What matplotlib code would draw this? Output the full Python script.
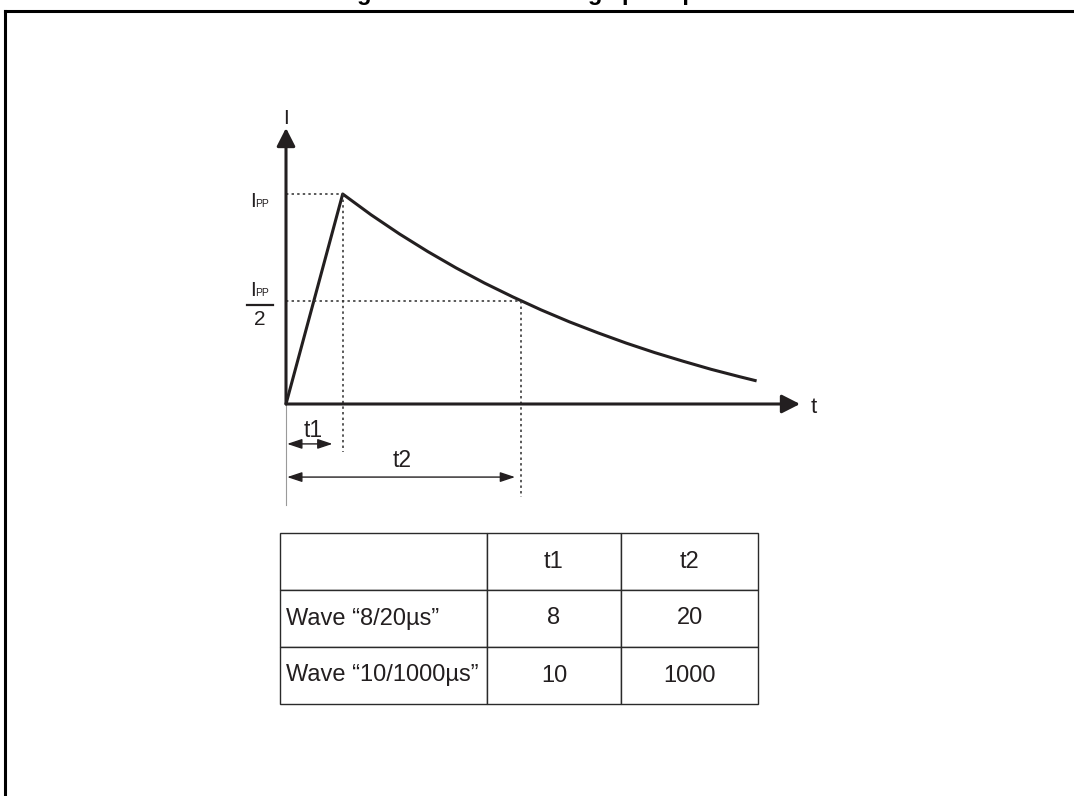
import matplotlib
matplotlib.use('Agg')
import matplotlib.pyplot as plt
from matplotlib.lines import Line2D
from matplotlib.transforms import IdentityTransform

plt.rcParams['font.family'] = ['Liberation Sans', 'DejaVu Sans']

# ---------------- data ----------------
# time in units of the rise time t1, current in units of Ipp
rise_t = [0.0, 1.0]
rise_i = [0.0, 1.0]
decay_t = [1.0, 1.5, 2.0, 2.5, 3.0, 3.5, 4.0, 4.5, 5.0, 5.5, 6.0, 6.5, 7.0, 7.5, 8.0, 8.3]
decay_i = [1.000, 0.901, 0.810, 0.726, 0.648, 0.576, 0.510, 0.448, 0.391, 0.339,
           0.290, 0.245, 0.204, 0.165, 0.130, 0.110]
T1 = 1.0          # time of peak
T2 = 4.14         # time at half value
I_PEAK = 1.0
I_HALF = 0.49

table_cols = ['', 't1', 't2']
wave_names = ['Wave \u201c8/20\u00b5s\u201d', 'Wave \u201c10/1000\u00b5s\u201d']
t1_values = [8, 10]
t2_values = [20, 1000]

TITLE = 'Figure 2. Standard surge peak pulse'

# ---------------- figure ----------------
W, H = 1074, 796
fig = plt.figure(figsize=(W / 100, H / 100), dpi=100)
C = '#231f20'
DOT = '#333333'

# page frame (partial box) and clipped caption
fig.add_artist(Line2D([5 / W, 5 / W], [0, 1 - 10.5 / H], transform=fig.transFigure,
                      lw=2.2, color='black', solid_capstyle='projecting'))
fig.add_artist(Line2D([5 / W, 1.0], [1 - 10.5 / H, 1 - 10.5 / H], transform=fig.transFigure,
                      lw=2.2, color='black', solid_capstyle='projecting'))
fig.text(540 / W, 1 - 0.3 / H, TITLE, ha='center', va='baseline', fontsize=17,
         fontweight='bold', color='black')

# ---------------- waveform axes ----------------
PX_T = 56.7   # pixels per t unit
PX_I = 210.0  # pixels per I unit
x0, y0 = 286, 404
x_tip, y_tip = 800, 128
X_MAX = (x_tip - x0) / PX_T
Y_MAX = (y0 - y_tip) / PX_I
ax = fig.add_axes([x0 / W, 1 - y0 / H, (x_tip - x0) / W, (y0 - y_tip) / H])
ax.set_xlim(0, X_MAX)
ax.set_ylim(0, Y_MAX)
ax.axis('off')

# axes with arrows
arrow_kw = dict(arrowstyle='-|>,head_length=0.55,head_width=0.28', lw=2.2, color=C,
                shrinkA=0, shrinkB=0, mutation_scale=20)
ax.annotate('', xy=(X_MAX, 0), xytext=(0, 0), arrowprops=arrow_kw, annotation_clip=False)
ax.annotate('', xy=(0, Y_MAX), xytext=(0, 0), arrowprops=arrow_kw, annotation_clip=False)

# thin gray reference line under origin
ax.plot([0, 0], [0, -0.481], color='#9a9a9a', lw=0.8, clip_on=False)

# pulse
ax.plot(rise_t + decay_t[1:], rise_i + decay_i[1:], color=C, lw=2.2,
        solid_joinstyle='round', solid_capstyle='butt', clip_on=False)

# dotted construction lines
dot_kw = dict(color=DOT, lw=1.15, ls=(0, (1.5, 2.0)), clip_on=False)
ax.plot([0, T1], [I_PEAK, I_PEAK], **dot_kw)
ax.plot([T1, T1], [I_PEAK, -0.229], **dot_kw)
ax.plot([0, T2], [I_HALF, I_HALF], **dot_kw)
ax.plot([T2, T2], [I_HALF, -0.443], **dot_kw)

# dimension arrows
dim_kw = dict(arrowstyle='<|-|>,head_length=0.45,head_width=0.15', lw=1.0, color=C,
              shrinkA=0, shrinkB=0, mutation_scale=20)
t1_end, t1_lvl = 0.82, -0.19
t2_end, t2_lvl = 4.04, -0.348
ax.annotate('', xy=(t1_end, t1_lvl), xytext=(0.02, t1_lvl), arrowprops=dim_kw,
            annotation_clip=False)
ax.annotate('', xy=(t2_end, t2_lvl), xytext=(0.02, t2_lvl), arrowprops=dim_kw,
            annotation_clip=False)

lab = dict(textcoords='offset pixels', color=C, annotation_clip=False)
ax.annotate('t1', xy=(t1_end / 2, t1_lvl), xytext=(4, 7), ha='center', va='baseline',
            fontsize=16.5, **lab)
ax.annotate('t2', xy=(t2_end / 2, t2_lvl), xytext=(2, 10), ha='center', va='baseline',
            fontsize=16.5, **lab)
ax.annotate('I', xy=(0, Y_MAX), xytext=(0, 10), ha='center', va='center',
            fontsize=15, **lab)
ax.annotate('t', xy=(X_MAX, 0), xytext=(14, -9), ha='center', va='baseline',
            fontsize=16, **lab)

# Ipp label
ax.annotate('I', xy=(0, I_PEAK), xytext=(-33, -13), ha='center', va='baseline',
            fontsize=15, **lab)
ax.annotate('PP', xy=(0, I_PEAK), xytext=(-23.5, -13), ha='center', va='baseline',
            fontsize=7.5, **lab)
# Ipp/2 label
ax.annotate('I', xy=(0, I_HALF), xytext=(-33, 4.7), ha='center', va='baseline',
            fontsize=15, **lab)
ax.annotate('PP', xy=(0, I_HALF), xytext=(-23.5, 4.7), ha='center', va='baseline',
            fontsize=7.5, **lab)
ax.annotate('2', xy=(0, I_HALF), xytext=(-26, -24.3), ha='center', va='baseline',
            fontsize=15, **lab)
# fraction bar (placed in display pixels relative to the Ipp/2 level)
px, py = ax.transData.transform((0, I_HALF))
fig.add_artist(Line2D([px - 39, px - 13], [py - 3.5, py - 3.5], transform=IdentityTransform(),
                      lw=1.6, color=C))

# ---------------- table ----------------
tx0, tx1, ty0, ty1 = 280, 758, 533, 704
tax = fig.add_axes([tx0 / W, 1 - ty1 / H, (tx1 - tx0) / W, (ty1 - ty0) / H])
tax.axis('off')
cell_text = [table_cols] + [[n, str(a), str(b)] for n, a, b in zip(wave_names, t1_values, t2_values)]
col_w = [207, 134, 137]
tot = sum(col_w)
tbl = tax.table(cellText=cell_text, cellLoc='center', bbox=[0, 0, 1, 1],
                colWidths=[w / tot for w in col_w])
tbl.auto_set_font_size(False)
tbl.set_fontsize(17)
for (r, c), cell in tbl.get_celld().items():
    cell.set_edgecolor('#2a2a2a')
    cell.set_linewidth(1.0)
    cell.get_text().set_color(C)
    if c == 0:
        cell.get_text().set_horizontalalignment('left')
        cell.PAD = 0.03

fig.savefig('out.png', dpi=100)
